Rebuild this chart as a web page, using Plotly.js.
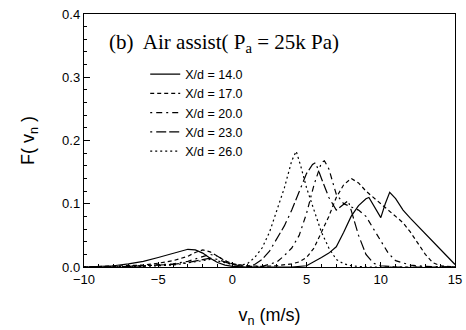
<!DOCTYPE html>
<html><head><meta charset="utf-8">
<script src="https://cdn.plot.ly/plotly-3.0.1.min.js"></script>
<style>body{margin:0;background:#fff}#c{width:466px;height:330px}</style>
</head><body><div id="c"></div>
<script>
const seriesNames = ["X/d = 14.0","X/d = 17.0","X/d = 20.0","X/d = 23.0","X/d = 26.0"];

const x14 = [-10,-8,-7,-6,-5,-4,-3.5,-3,-2.5,-2,-1.5,-1,-0.5,0,1,2,3,4,5,5.5,6,6.5,7,7.5,8,8.5,9,9.2,9.6,10,10.3,10.6,11,11.5,12,13,14,15];
const y14 = [0,0.002,0.005,0.009,0.015,0.021,0.025,0.028,0.027,0.022,0.014,0.007,0.003,0.001,0,0,0,0,0.002,0.008,0.015,0.022,0.032,0.055,0.08,0.097,0.108,0.11,0.095,0.078,0.1,0.118,0.108,0.09,0.077,0.053,0.029,0.004];

const x17 = [-10,-8,-6,-5,-4,-3,-2.5,-2,-1.5,-1,-0.5,0,1,2,3,4,4.5,5,5.5,6,6.5,7,7.5,8,8.5,9,9.5,10,10.5,11,11.5,12,12.5,13,13.5,14,15];
const y17 = [0,0.001,0.003,0.006,0.01,0.017,0.023,0.027,0.024,0.017,0.01,0.005,0.002,0.001,0.002,0.005,0.008,0.015,0.03,0.055,0.08,0.11,0.13,0.14,0.133,0.12,0.11,0.1,0.09,0.08,0.07,0.055,0.038,0.02,0.007,0.002,0];

const x20 = [-10,-8,-6,-4,-3,-2,-1.5,-1,-0.5,0,0.5,1,2,3,3.5,4,4.5,5,5.5,6,6.2,6.5,7,7.5,8,8.5,9,9.5,10,10.5,11,12,13,15];
const y20 = [0,0,0.002,0.005,0.009,0.016,0.02,0.017,0.01,0.005,0.002,0.001,0.001,0.008,0.018,0.03,0.05,0.085,0.13,0.165,0.168,0.155,0.115,0.1,0.095,0.09,0.08,0.06,0.04,0.022,0.01,0.003,0.001,0];

const x23 = [-10,-8,-6,-4,-3,-2,-1.5,-1,-0.5,0,0.5,1,1.5,2,2.5,3,3.5,4,4.5,5,5.4,5.6,6,6.5,7,7.5,7.8,8,8.5,9,9.5,10,11,15];
const y23 = [0,0,0.002,0.004,0.007,0.012,0.014,0.012,0.008,0.004,0.002,0.001,0.004,0.012,0.025,0.045,0.065,0.09,0.12,0.148,0.162,0.165,0.14,0.11,0.09,0.1,0.105,0.09,0.05,0.02,0.006,0.002,0,0];

const x26 = [-10,-8,-6,-4,-3,-2,-1.5,-1,-0.5,0,0.5,1,1.5,2,2.5,3,3.5,4,4.3,4.6,5,5.5,6,6.5,7,7.5,8,9,10,15];
const y26 = [0,0,0.001,0.003,0.006,0.01,0.012,0.01,0.007,0.004,0.003,0.005,0.015,0.03,0.055,0.09,0.125,0.168,0.183,0.16,0.125,0.09,0.055,0.03,0.012,0.005,0.002,0,0,0];

const xTickVals = [-10,-5,0,5,10,15];
const yTickVals = [0,0.1,0.2,0.3,0.4];

const dashes = ["solid","4px,3px","2px,4px,6px,4px","2px,4px,10px,3px,10px,4px","2px,3px"];
const xs = [x14,x17,x20,x23,x26];
const ys = [y14,y17,y20,y23,y26];

const traces = xs.map((x,i)=>({
  x:x, y:ys[i], name:seriesNames[i], type:'scatter', mode:'lines',
  line:{color:'#000', width:1.2, dash:dashes[i]}
}));

const axisCommon = {showline:true, linecolor:'#000', linewidth:1.2, mirror:true, ticks:'inside',
  tickcolor:'#000', showgrid:false, zeroline:false,
  tickfont:{family:'Liberation Sans, Arial', size:13, color:'#000'}};

const layout = {
  width:466, height:330,
  margin:{l:84, r:11, t:14, b:63},
  paper_bgcolor:'#fff', plot_bgcolor:'#fff',
  font:{family:'Liberation Sans, Arial', color:'#000'},
  xaxis:Object.assign({}, axisCommon, {range:[-10,15], tickvals:xTickVals, ticklen:5,
    minor:{dtick:1, ticks:'inside', ticklen:3, tickcolor:'#000'},
    title:{text:'v<sub>n</sub> (m/s)', font:{size:18}, standoff:22}}),
  yaxis:Object.assign({}, axisCommon, {range:[0,0.4], tickvals:yTickVals, tickformat:'.1f', ticklen:6,
    minor:{dtick:0.02, ticks:'inside', ticklen:3, tickcolor:'#000'},
    title:{text:'F( v<sub>n</sub> )', font:{size:18}, standoff:22}}),
  showlegend:true,
  legend:{x:0.165, y:0.82, xanchor:'left', yanchor:'top', bgcolor:'rgba(0,0,0,0)',
    font:{size:12.5, family:'Liberation Sans, Arial'}, tracegroupgap:0, itemwidth:30},
  annotations:[{xref:'paper', yref:'paper', x:0.062, y:0.885, xanchor:'left', yanchor:'middle',
    showarrow:false, text:'(b)  Air assist( P<sub>a</sub> = 25k Pa)',
    font:{family:'Liberation Serif, Times New Roman', size:21, color:'#000'}}]
};

Plotly.newPlot('c', traces, layout, {displayModeBar:false, staticPlot:true});
</script></body></html>
